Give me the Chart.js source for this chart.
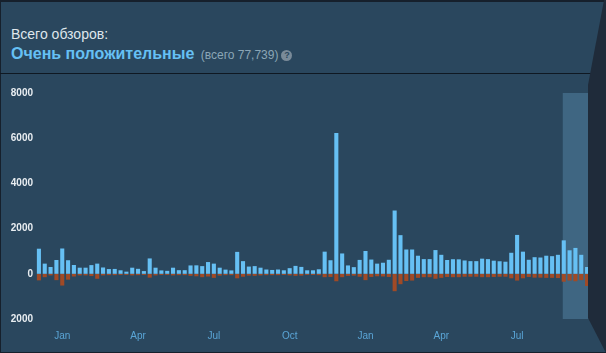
<!DOCTYPE html>
<html>
<head>
<meta charset="utf-8">
<script src="https://cdn.jsdelivr.net/npm/chart.js@4.4.0/dist/chart.umd.min.js"></script>
<style>
  html, body { margin: 0; padding: 0; }
  body { width: 606px; height: 353px; background: #16202c; position: relative; overflow: hidden; font-family: Arial, "Liberation Sans", sans-serif; }
  #box { position: absolute; left: 1px; top: 2px; right: 0; bottom: 1px; background: #2a475e; }
  #sep { position: absolute; left: 0; top: 73px; width: 606px; height: 1px; background: #0f1822; }
  #title { position: absolute; left: 11px; top: 27px; font-size: 14px; line-height: 14px; color: #dfe6ec; white-space: nowrap; }
  #summary { position: absolute; left: 11px; top: 46px; line-height: 16px; white-space: nowrap; }
  #summary b { font-size: 16px; color: #66c0f4; }
  #summary .cnt { font-size: 12px; color: #8ba6b6; margin-left: 2px; }
  #summary .q { display: inline-block; width: 11px; height: 11px; border-radius: 50%; background: #7a8b99; color: #2a475e; font-size: 9px; font-weight: bold; line-height: 11px; text-align: center; margin-left: 3px; vertical-align: 1px; }
  #panel { position: absolute; left: 0; top: 0; width: 606px; height: 353px; background: #1f2b3a;
           clip-path: polygon(604px 0, 606px 0, 606px 353px, 606px 353px, 588px 318px, 588px 85px); }
  canvas { position: absolute; left: 0; top: 0; }
</style>
</head>
<body>
<div id="box"></div>
<div id="sep"></div>
<div id="title">Всего обзоров:</div>
<div id="summary"><b>Очень положительные</b> <span class="cnt">(всего 77,739)</span><span class="q">?</span></div>
<canvas id="chart" width="606" height="353"></canvas>
<div id="panel"></div>
<script>
  // weekly review counts
  const positive = [
    1110, 450, 300, 610, 1120, 600, 390, 270, 270, 385,
    450, 280, 210, 215, 155, 95, 270, 220, 120, 680,
    270, 150, 130, 270, 160, 160, 370, 375, 340, 520,
    450, 270, 185, 150, 970, 560, 320, 340, 270, 190,
    170, 190, 155, 250, 350, 305, 155, 155, 200, 980,
    600, 6230, 900, 370, 295, 615, 1010, 630, 450, 490,
    620, 2800, 1710, 1075, 1075, 800, 650, 650, 1050, 840,
    610, 645, 640, 590, 560, 560, 670, 650, 580, 555,
    535, 930, 1720, 980, 620, 735, 720, 800, 780, 840,
    1480, 1040, 1145, 840, 300
  ];
  const negative = [
    -290, -150, -70, -280, -520, -260, -120, -70, -70, -100,
    -220, -70, -60, -60, -50, -50, -70, -60, -50, -170,
    -70, -50, -50, -70, -60, -60, -90, -110, -150, -120,
    -180, -80, -60, -60, -200, -130, -80, -90, -70, -60,
    -60, -60, -50, -70, -90, -80, -50, -50, -60, -150,
    -140, -330, -150, -90, -80, -130, -280, -140, -110, -120,
    -140, -770, -460, -320, -300, -180, -150, -150, -220, -180,
    -140, -150, -150, -130, -130, -130, -150, -150, -140, -130,
    -130, -200, -300, -200, -140, -170, -170, -180, -180, -190,
    -350, -300, -330, -280, -540
  ];
  const monthLabels = ['Jan', 'Apr', 'Jul', 'Oct', 'Jan', 'Apr', 'Jul'];
  const monthWeeks = [4, 17, 30, 43, 56, 69, 82];
  const highlightFrom = 90;

  const labels = positive.map((v, i) => {
    const k = monthWeeks.indexOf(i);
    return k >= 0 ? monthLabels[k] : '';
  });

  const highlight = {
    id: 'highlight',
    beforeDatasetsDraw(chart) {
      const { ctx, chartArea, scales } = chart;
      const x0 = scales.x.getPixelForValue(highlightFrom) - 1;
      ctx.save();
      ctx.fillStyle = '#3f6682';
      ctx.fillRect(x0, chartArea.top, chartArea.right - 1.5 - x0, chartArea.bottom - chartArea.top);
      ctx.restore();
    }
  };

  new Chart(document.getElementById('chart'), {
    type: 'bar',
    data: {
      labels: labels,
      datasets: [
        { data: positive, backgroundColor: '#66c0f4', barPercentage: 0.7, categoryPercentage: 1 },
        { data: negative, backgroundColor: '#a04a26', barPercentage: 0.7, categoryPercentage: 1 }
      ]
    },
    options: {
      responsive: false,
      animation: false,
      devicePixelRatio: 1,
      layout: { padding: { top: 93, right: 16, bottom: 0, left: 0 } },
      plugins: { legend: { display: false }, tooltip: { enabled: false } },
      scales: {
        x: {
          stacked: true,
          grid: { display: false, drawTicks: false },
          border: { display: false },
          ticks: {
            autoSkip: false, maxRotation: 0, padding: 11,
            color: '#5aa5d6', font: { family: 'Arial', size: 10 }
          }
        },
        y: {
          stacked: true,
          min: -2000, max: 8000,
          afterFit(scale) { scale.width = 36; },
          grid: { display: false, drawTicks: false },
          border: { display: false },
          ticks: {
            stepSize: 2000, padding: 3,
            color: '#e8edf1', font: { family: 'Arial', size: 10, weight: 'bold' },
            callback: v => Math.abs(v)
          }
        }
      }
    },
    plugins: [highlight]
  });
</script>
</body>
</html>
